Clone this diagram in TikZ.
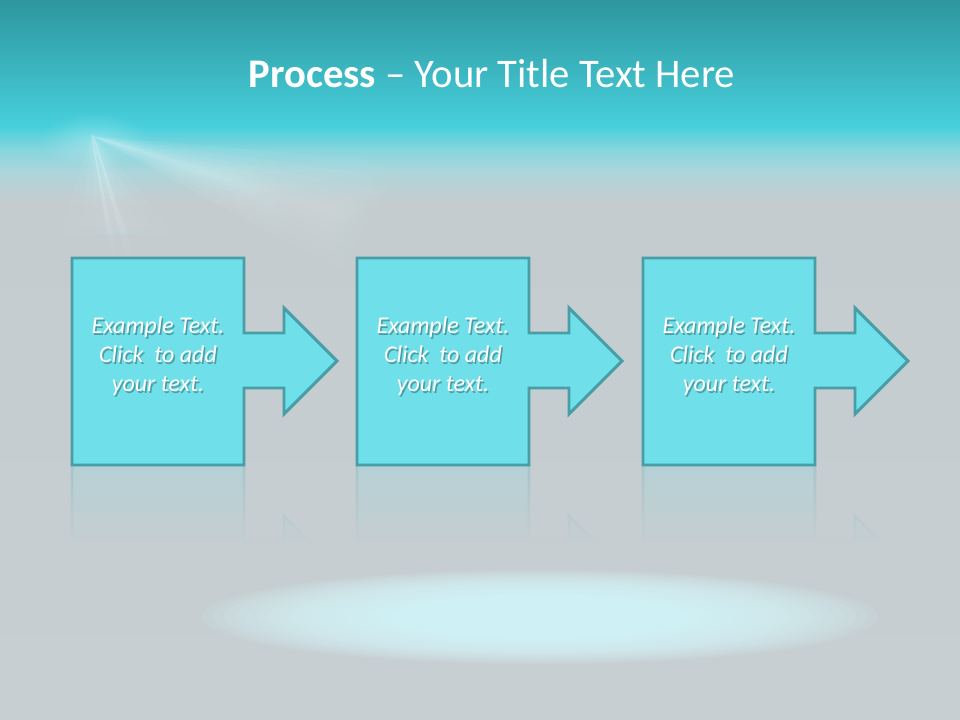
\documentclass[tikz,border=0pt]{standalone}
\usepackage{fontspec}
\setmainfont{Carlito}
\usetikzlibrary{fadings}
\definecolor{bgtop}{RGB}{45,150,158}
\definecolor{bgmid}{RGB}{71,208,220}
\definecolor{bglt}{RGB}{135,214,222}
\definecolor{bglt2}{RGB}{172,214,219}
\definecolor{bggray}{RGB}{196,204,207}
\definecolor{bggray2}{RGB}{199,207,210}
\definecolor{boxfill}{RGB}{111,224,234}
\definecolor{boxline}{RGB}{72,158,166}
\definecolor{glowc}{RGB}{216,250,255}
\definecolor{raywhite}{RGB}{235,252,254}

\pgfdeclareverticalshading{reflmask}{100bp}{color(0bp)=(black); color(25bp)=(black); color(53bp)=(black); color(75bp)=(white!45!black); color(100bp)=(white!45!black)}
\begin{tikzfadingfrompicture}[name=reflfade]
  \shade[shading=reflmask] (-50bp,-50bp) rectangle (50bp,50bp);
\end{tikzfadingfrompicture}
\tikzfading[name=rayfade, top color=transparent!0, bottom color=transparent!100]
\tikzfading[name=softspot, inner color=transparent!0, outer color=transparent!100]

\tikzset{
  stepshape/.style={fill=boxfill, draw=boxline, line width=2.2pt, line join=miter},
  reflshape/.style={fill=boxfill, draw=boxline, line width=2.2pt, path fading=reflfade},
  bodytxt/.style={text=white, align=center, font=\itshape\fontsize{18}{21.75}\selectfont},
  shadowtxt/.style={text=black, opacity=0.3, align=center, font=\itshape\fontsize{18}{21.75}\selectfont},
  titletxt/.style={text=white, anchor=base, font=\fontsize{30.5}{36}\selectfont}
}

\begin{document}
\begin{tikzpicture}[x=0.75pt,y=-0.75pt]
\useasboundingbox (0,0) rectangle (960,720);
\begin{scope}
\clip (0,0) rectangle (960,720);
% background
\fill[bggray] (0,0) rectangle (960,720);
\shade[top color=bggray, bottom color=bggray2] (0,199) rectangle (960,720);
\shade[top color=bgtop, bottom color=bgmid] (0,0) rectangle (960,127);
\shade[top color=bgmid, bottom color=bglt] (0,126.5) rectangle (960,150);
\shade[top color=bglt, bottom color=bglt2] (0,149.5) rectangle (960,172);
\shade[top color=bglt2, bottom color=bggray] (0,171.5) rectangle (960,200);
% light rays
\fill[raywhite, fill opacity=0.30, path fading=softspot] (95,140) ellipse [x radius=55, y radius=28];
\foreach \w in {8,18,30,45,62,80}{
  \fill[raywhite, fill opacity=0.09, path fading=rayfade, fading angle=72] (92,136) -- (440,{245-\w}) -- (440,{245+\w}) -- cycle;
}
\foreach \w in {6,16,30,50,75}{
  \fill[raywhite, fill opacity=0.09, path fading=rayfade] (92,134) -- ({126-\w},264) -- ({126+\w},264) -- cycle;
}
\fill[raywhite, fill opacity=0.35, path fading=rayfade] (91,134) -- (112,262) -- (119,262) -- cycle;
\fill[raywhite, fill opacity=0.35, path fading=rayfade] (93,134) -- (128,262) -- (136,262) -- cycle;
% glow spot
\foreach \k in {0,...,23}{
  \fill[glowc, fill opacity=0.1] (540,617) ellipse [x radius={338-11*\k}, y radius={47-1.45*\k}];
}
\end{scope}

% title
\node[titletxt] (title) at (492,88) {\textbf{Process} – Your Title Text Here};

% steps
\foreach \dx/\n in {0/1,285/2,571/3}{
  \path[reflshape] ({72+\dx},672) -- ({244+\dx},672) -- ({244+\dx},597) -- ({284+\dx},597) -- ({284+\dx},622) -- ({337+\dx},569) -- ({284+\dx},516) -- ({284+\dx},542) -- ({244+\dx},542) -- ({244+\dx},465) -- ({72+\dx},465) -- cycle;
  \path[stepshape] ({72+\dx},258) -- ({244+\dx},258) -- ({244+\dx},333) -- ({284+\dx},333) -- ({284+\dx},308) -- ({337+\dx},361) -- ({284+\dx},414) -- ({284+\dx},388) -- ({244+\dx},388) -- ({244+\dx},465) -- ({72+\dx},465) -- cycle;
  \node[shadowtxt] (s\n) at ({158+\dx+1.5},{356+2}) {Example Text.\\Click\ \ to add\\your text.};
  \node[bodytxt] (t\n) at ({158+\dx},356) {Example Text.\\Click\ \ to add\\your text.};
}
\end{tikzpicture}
\end{document}
